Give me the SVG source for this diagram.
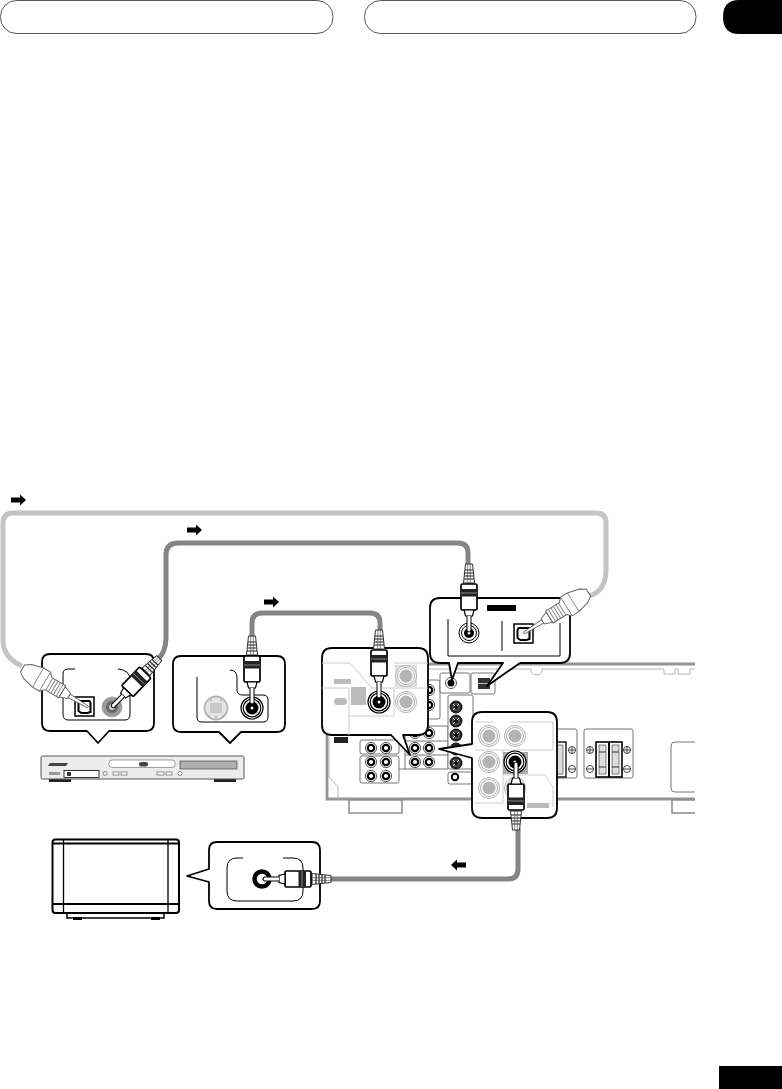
<svg xmlns="http://www.w3.org/2000/svg" width="782" height="1089" viewBox="0 0 782 1089">
<style>
.co{fill:#fff;stroke:#000;stroke-width:1.8;stroke-linejoin:round}
.fr{fill:none;stroke:#000;stroke-width:1}
.rc{fill:none;stroke:#949494;stroke-width:2.8}
.rt{fill:none;stroke:#b4b4b4;stroke-width:1}
.pn{fill:#fff;stroke:#777;stroke-width:1}
.cb{fill:none;stroke-width:5;stroke-linecap:butt}
</style>
<defs>
<g id="arrow"><path d="M0,-2.500H9V-5.500L15,0L9,5.500V2.500H0Z" fill="#000"/></g>
<g id="jk"><circle r="5.600" fill="#fff" stroke="#555" stroke-width="1"/><circle r="3.200" fill="#fff" stroke="#000" stroke-width="2.200"/></g>
<g id="dj"><circle r="6.500" fill="#222"/><circle r="4" fill="#555"/><circle r="2.400" fill="#111"/><path d="M-3,-3L-1,-1M3,-3L1,-1M-3,3L-1,1" stroke="#ddd" stroke-width="1"/></g>
<g id="gj"><circle r="10.500" fill="#fff" stroke="#b0b0b0" stroke-width="1"/><circle r="8.500" fill="#fff" stroke="#b0b0b0" stroke-width="1"/><circle r="6.500" fill="#b4b4b4"/></g>
<g id="bj"><circle r="11" fill="#fff" stroke="#000" stroke-width="1.200"/><circle r="8.800" fill="#fff" stroke="#000" stroke-width="1.200"/><circle r="6.500" fill="#000"/><circle r="1.500" fill="#fff"/></g>
<g id="term"><circle r="3.500" fill="#fff" stroke="#333" stroke-width=".9"/><path d="M-3.500,0H3.500M0,-3.500V3.500" stroke="#333" stroke-width=".9"/></g>
<g id="termn"><circle r="3.500" fill="#fff" stroke="#333" stroke-width=".9"/><path d="M-3.500,0H3.500" stroke="#333" stroke-width=".9"/></g>
<g id="rca">
<path d="M-3.500,-68H3.500L5.500,-49H-5.500Z" fill="#fff" stroke="#333" stroke-width="1"/>
<path d="M-4,-62H4M-4.300,-59H4.300M-4.600,-56H4.600M-5,-53H5" stroke="#222" stroke-width="1.200"/>
<path d="M-1.300,-68V-49M1.300,-68V-49" stroke="#333" stroke-width=".6"/>
<rect x="-8" y="-48" width="16" height="26" rx="1.500" fill="#fff" stroke="#000" stroke-width="1.700"/>
<rect x="-8" y="-43" width="16" height="7.500" fill="#222"/>
<path d="M-8,-39H8" stroke="#888" stroke-width="1"/>
<path d="M-5,-22H5L3.500,-16H-3.500Z" fill="#fff" stroke="#000" stroke-width="1.200"/>
<path d="M-2,-16V-1Q0,1 2,-1V-16" fill="#fff" stroke="#000" stroke-width="1"/>
</g>
<g id="opt">
<path d="M0,-1L22,-2L22,2L0,1Z" fill="#fff" stroke="#555" stroke-width=".8"/>
<path d="M22,-3L30,-6V6L22,3Z" fill="#fff" stroke="#666" stroke-width="1"/>
<path d="M30,-7H46L50,-11H58L70,-8L76,-4V4L70,8L58,11H50L46,7H30Z" fill="#fff" stroke="#666" stroke-width="1"/>
<path d="M33,-7V7M36,-7V7M39,-7V7M42,-7V7M45,-7V7" stroke="#888" stroke-width="1"/>
<path d="M58,-11V11M50,-11V11" stroke="#777" stroke-width=".8"/>
</g>
<g id="oport"><rect x="-9.500" y="-9" width="19" height="19" fill="#fff" stroke="#000" stroke-width="1.500"/><path d="M-5,-5H5L6,-3V6L3,7H-3L-6,5V-3Z" fill="#fff" stroke="#000" stroke-width="2"/></g>
</defs>

<g id="header">
<rect x=".5" y=".5" width="332.500" height="33" rx="16" fill="#fff" stroke="#555"/>
<rect x="364.500" y=".5" width="331.500" height="33" rx="16" fill="#fff" stroke="#555"/>
<path d="M782,0H739Q723,0 723,17Q723,34 739,34H782Z" fill="#000"/>
<rect x="719" y="1066" width="63" height="23" fill="#000"/>
</g>

<g id="receiver">
<path class="rc" d="M428,664H695M327,735V799H695"/>
<path class="rt" d="M429,669H531V672Q533,675 537,675Q541,675 542,672V669H664V674H675V669H678V674H690V669H695"/>
<path class="rt" d="M329,737V777L338,787V799"/>
<rect x="349" y="800" width="53" height="13" fill="#fff" stroke="#8c8c8c" stroke-width="1.500"/>
<path d="M695,800H672V813H695" fill="#fff" stroke="#8c8c8c" stroke-width="1.500"/>
<path d="M695,742H675Q671,742 671,746V788Q671,792 675,792H695" fill="#fff" stroke="#777"/>
<rect x="334" y="737" width="14" height="6" fill="#222"/>
<rect class="pn" x="360" y="740" width="39" height="14" rx="2"/>
<rect class="pn" x="360" y="756" width="39" height="27" rx="2"/>
<path class="pn" d="M399,769H448V726H405V769"/>
<path class="pn" d="M405,741H448M405,755H448"/>
<rect class="pn" x="448" y="695" width="25" height="74" rx="2"/>
<rect class="pn" x="448" y="772" width="24" height="12" rx="2"/>
<rect class="pn" x="420" y="680" width="20" height="39" rx="2"/>
<rect class="pn" x="440" y="673" width="30" height="20" rx="2"/>
<rect class="pn" x="471" y="673" width="24" height="21" rx="2"/>
<rect x="478" y="678" width="12" height="11" fill="#333"/>
<path d="M478,683.500H490" stroke="#bbb"/>
<circle cx="451" cy="683" r="5.500" fill="#fff" stroke="#555"/><circle cx="451" cy="683" r="3.500" fill="#000"/>
<use href="#jk" x="371" y="748"/><use href="#jk" x="386" y="748"/>
<use href="#jk" x="371" y="762"/><use href="#jk" x="386" y="762"/>
<use href="#jk" x="371" y="776"/><use href="#jk" x="386" y="776"/>
<use href="#jk" x="415" y="733"/><use href="#jk" x="429" y="733"/>
<use href="#jk" x="415" y="748"/><use href="#jk" x="429" y="748"/>
<use href="#jk" x="415" y="762"/><use href="#jk" x="429" y="762"/>
<use href="#jk" x="429" y="690"/><use href="#jk" x="429" y="705"/>
<use href="#dj" x="456" y="707"/><use href="#dj" x="456" y="721"/>
<use href="#dj" x="456" y="735"/><use href="#dj" x="456" y="749"/><use href="#dj" x="456" y="763"/>
<circle cx="455" cy="777" r="3.200" fill="#fff" stroke="#000" stroke-width="2"/>
<rect class="pn" x="550" y="729" width="27" height="49" rx="2"/>
<rect x="550" y="742" width="16" height="35" fill="#fff" stroke="#000" stroke-width="1.300"/>
<path d="M553,745H563V774H553Z" fill="#ddd" stroke="#333" stroke-width=".6"/>
<use href="#term" x="572" y="750"/><use href="#termn" x="572" y="769"/>
<rect class="pn" x="584" y="729" width="49" height="49" rx="2"/>
<rect x="596" y="742" width="26" height="35" fill="#fff" stroke="#000" stroke-width="1.600"/>
<path d="M609,742V777" stroke="#000" stroke-width="2"/>
<path d="M599,745H606V774H599ZM612,745H619V774H612Z" fill="#ddd" stroke="#333" stroke-width=".6"/>
<path d="M599,752H606M599,767H606M612,752H619M612,767H619" stroke="#333" stroke-width="1"/>
<use href="#term" x="590" y="750"/><use href="#term" x="627" y="750"/>
<use href="#termn" x="590" y="769"/><use href="#termn" x="627" y="769"/>
</g>

<g id="dvd-player">
<rect x="49" y="778" width="22" height="4" fill="#222"/><rect x="214" y="778" width="22" height="4" fill="#222"/>
<rect x="41" y="756" width="203" height="23" rx="1.500" fill="#ececec" stroke="#555" stroke-width="1"/>
<path d="M48,766L50,763H68L66,766Z" fill="#444"/>
<rect x="109" y="760" width="66" height="7.500" rx="3" fill="#fff" stroke="#888" stroke-width=".8"/>
<rect x="139" y="762" width="9" height="4.500" rx="2" fill="#444"/>
<rect x="180" y="761" width="57" height="8" fill="#b0b0b0" stroke="#333" stroke-width=".6"/>
<rect x="64" y="770.500" width="35" height="7" fill="#fff" stroke="#000" stroke-width=".8"/>
<rect x="67" y="772" width="4" height="4" fill="#333"/>
<rect x="49" y="772" width="11" height="3" fill="#999"/>
<circle cx="105" cy="773.500" r="2" fill="#fff" stroke="#555" stroke-width=".7"/><circle cx="180" cy="773.500" r="2" fill="#fff" stroke="#555" stroke-width=".7"/>
<g fill="#fff" stroke="#666" stroke-width=".7"><rect x="113" y="772" width="6" height="3"/><rect x="121" y="772" width="6" height="3"/><rect x="157" y="772" width="7" height="3"/><rect x="166" y="772" width="6" height="3"/></g>
</g>

<g id="callout-dvd-digital">
<path class="co" d="M50,654H146Q154,654 154,662V723Q154,731 146,731H109L98,743L87,731H50Q42,731 42,723V662Q42,654 50,654Z"/>
<path class="fr" d="M75,669H68Q63,669 63,674V714Q63,720 68,720H125Q130,720 130,714V680Q130,670 118,669"/>
<use href="#oport" x="84.500" y="706"/>
<circle cx="112" cy="707" r="10" fill="#999" stroke="#aaa"/><circle cx="112" cy="707" r="6" fill="#666"/><circle cx="112" cy="707" r="3" fill="#ccc"/>
</g>

<g id="callout-dvd-video">
<path class="co" d="M181,656H277Q285,656 285,664V724Q285,732 277,732H241L230,743L219,732H181Q173,732 173,724V664Q173,656 181,656Z"/>
<path class="fr" d="M230,670Q237,670 237,678V690Q237,695 243,695H263Q268,695 268,700V717Q268,722 263,722H202Q197,722 197,717V677"/>
<circle cx="216" cy="708" r="11.500" fill="#e4e4e4" stroke="#b4b4b4" stroke-width="1.800"/>
<rect x="210" y="703" width="12" height="10" fill="#c8c8c8"/>
<g fill="#aaa"><circle cx="211" cy="700" r="1"/><circle cx="221" cy="700" r="1"/><circle cx="209" cy="716" r="1"/><circle cx="216" cy="717" r="1"/><circle cx="223" cy="716" r="1"/></g>
<use href="#bj" x="252" y="708"/>
</g>

<g id="callout-receiver-video">
<path class="co" d="M332,648H418Q428,648 428,658V725Q428,735 418,735H403L410,755L391,735H332Q322,735 322,725V658Q322,648 332,648Z"/>
<path d="M322,663H350L372,688H394V716H349V688H322M394,663H428M349,716V735M394,688H428" fill="none" stroke="#ccc"/>
<rect x="395" y="665" width="22" height="22" fill="#ddd"/>
<use href="#gj" x="406" y="676"/><use href="#gj" x="406" y="702"/>
<rect x="334" y="679" width="17" height="5" fill="#bbb"/>
<rect x="351" y="687" width="15" height="18" fill="#bbb"/>
<rect x="334" y="698" width="13" height="7" rx="3.500" fill="#bbb"/>
<use href="#bj" x="379" y="702"/>
</g>

<g id="callout-receiver-digital">
<path class="co" d="M440,598H560Q570,598 570,608V653Q570,663 560,663H520L487,686L503,663H458L452,680L449,663H440Q430,663 430,653V608Q430,598 440,598Z"/>
<path class="fr" d="M448,619V656H560V623"/>
<path class="fr" d="M502,621V651"/>
<rect x="487" y="605" width="29" height="6" fill="#000"/>
<circle cx="469" cy="633" r="10" fill="#fff" stroke="#000"/><circle cx="469" cy="633" r="7.500" fill="#fff" stroke="#000"/><circle cx="469" cy="633" r="5" fill="#000"/><circle cx="469" cy="633" r="1.500" fill="#fff"/>
<use href="#oport" x="523.500" y="633"/>
</g>

<g id="callout-receiver-monitor">
<path class="co" d="M482,712H547Q557,712 557,722V808Q557,818 547,818H482Q472,818 472,808V758L439,749L472,744V722Q472,712 482,712Z"/>
<path d="M475,722H493M511,722H553V750M475,750H553M503,750V803M475,803H503M503,775H545L553,787V807" fill="none" stroke="#ccc"/>
<rect x="503" y="752" width="25" height="22" fill="#aaa"/>
<rect x="527" y="803" width="22" height="5" fill="#bbb"/>
<use href="#gj" x="489" y="736"/><use href="#gj" x="515" y="736"/>
<use href="#gj" x="489" y="762"/><use href="#gj" x="489" y="788"/><use href="#gj" x="515" y="788"/>
<use href="#bj" x="515" y="762"/>
</g>

<g id="callout-tv">
<path class="co" d="M217,842H312Q320,842 320,850V901Q320,909 312,909H217Q209,909 209,901V882L187,876L209,869V850Q209,842 217,842Z"/>
<path class="fr" d="M243,858H237Q227,858 227,868V891Q227,901 237,901H293Q303,901 303,891V868Q303,858 293,858H283"/>
<circle cx="262" cy="879" r="7.500" fill="#fff" stroke="#000" stroke-width="4.500"/><circle cx="264" cy="879" r="1.500" fill="#000"/>
</g>

<g id="tv">
<rect x="67" y="913" width="97" height="5" fill="#fff" stroke="#000" stroke-width="1.500"/>
<rect x="73" y="917" width="9" height="3" fill="#000"/><rect x="151" y="917" width="9" height="3" fill="#000"/>
<rect x="52.500" y="839.500" width="126.500" height="73.500" rx="3" fill="#fff" stroke="#000" stroke-width="2"/>
<path d="M53,843.500H179M53,904H179" stroke="#000" stroke-width="1.800"/>
<path d="M63.500,840V912M168,840V912" stroke="#000" stroke-width="1.300"/>
</g>

<g id="connectors">
<path class="cb" stroke="#c4c4c4" d="M22,666C8,660 3,650 3,640V523Q3,513 13,513H596Q606,513 606,523V570Q606,590 590,596"/>
<path class="cb" stroke="#858585" d="M157,660C163,655 166,648 166,638V555Q166,543 178,543H458Q468,543 468,553V572"/>
<path class="cb" stroke="#858585" d="M252,638V623Q252,613 262,613H370Q380,613 380,623V632"/>
<path class="cb" stroke="#858585" d="M518,828V869Q518,879 508,879H328"/>
<use href="#opt" transform="translate(88,707) rotate(210.500)"/>
<use href="#opt" transform="translate(524,633) rotate(-32)"/>
<use href="#rca" transform="translate(112,707) rotate(44)"/>
<use href="#rca" transform="translate(252,704)"/>
<use href="#rca" transform="translate(379,698)"/>
<use href="#rca" transform="translate(469,632)"/>
<use href="#rca" transform="translate(516,762) rotate(180)"/>
<use href="#rca" transform="translate(263,879) rotate(90)"/>
<use href="#arrow" x="11" y="500"/>
<use href="#arrow" x="187" y="530"/>
<use href="#arrow" x="264" y="602"/>
<use href="#arrow" transform="translate(466,865) rotate(180)"/>
</g>
</svg>
